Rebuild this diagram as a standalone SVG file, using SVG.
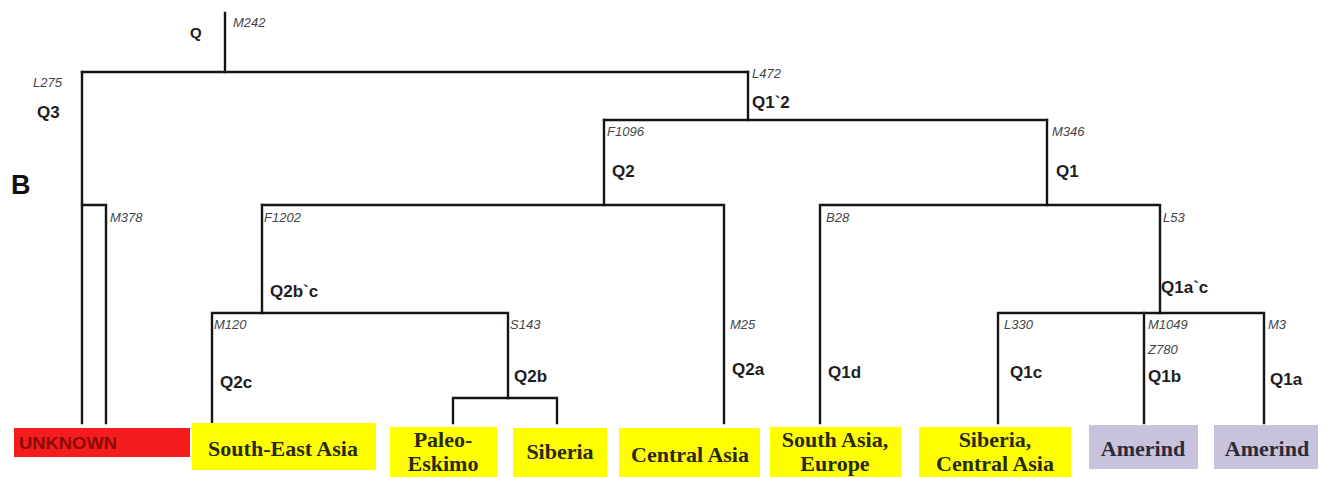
<svg xmlns="http://www.w3.org/2000/svg" width="1326" height="477" viewBox="0 0 1326 477">
<style>
.bg{fill:#ffffff}
.ln{stroke:#151515;stroke-width:2.4;fill:none;stroke-linecap:square}
.hg{font-family:"Liberation Sans",Arial,sans-serif;font-size:17px;font-weight:bold;fill:#1e1e1e}
.mk{font-family:"Liberation Sans",Arial,sans-serif;font-size:13px;font-style:italic;fill:#454545}
.big{font-family:"Liberation Sans",Arial,sans-serif;font-size:27px;font-weight:bold;fill:#111}
.yel{fill:#ffff00}
.lav{fill:#c9c2dd}
.red{fill:#f41c1c}
.bx{font-family:"Liberation Serif","Times New Roman",serif;font-size:22px;font-weight:bold;fill:#2a2a12;text-anchor:middle}
.bxl{font-family:"Liberation Serif","Times New Roman",serif;font-size:22px;font-weight:bold;fill:#2a2a3a;text-anchor:middle}
.unk{font-family:"Liberation Sans",Arial,sans-serif;font-size:16px;font-weight:bold;fill:#8a0a0a}
</style>
<rect class="bg" x="0" y="0" width="1326" height="477"/>
<g id="connectors">
<path class="ln" d="M225 13V72"/>
<path class="ln" d="M82 72H748"/>
<path class="ln" d="M82 72V423"/>
<path class="ln" d="M82 205H106V423"/>
<path class="ln" d="M748 72V120"/>
<path class="ln" d="M604 120H1047"/>
<path class="ln" d="M604 120V205"/>
<path class="ln" d="M262 205H724V423"/>
<path class="ln" d="M262 205V313"/>
<path class="ln" d="M212 423V313H508V398"/>
<path class="ln" d="M453 423V398H557V423"/>
<path class="ln" d="M1047 120V205"/>
<path class="ln" d="M820 423V205H1160V313"/>
<path class="ln" d="M998 423V313H1264V423"/>
<path class="ln" d="M1144 313V423"/>
</g>
<g id="labels">
<text class="big" x="11" y="194">B</text>
<text class="hg" x="190" y="38" style="font-size:15px">Q</text>
<text class="mk" x="233" y="27">M242</text>
<text class="mk" x="33" y="87">L275</text>
<text class="hg" x="37" y="118">Q3</text>
<text class="mk" x="110" y="222">M378</text>
<text class="mk" x="752" y="78">L472</text>
<text class="hg" x="752" y="108">Q1`2</text>
<text class="mk" x="607" y="136">F1096</text>
<text class="hg" x="612" y="177">Q2</text>
<text class="mk" x="1052" y="136">M346</text>
<text class="hg" x="1056" y="177">Q1</text>
<text class="mk" x="264" y="222">F1202</text>
<text class="mk" x="826" y="222">B28</text>
<text class="mk" x="1163" y="222">L53</text>
<text class="hg" x="270" y="297">Q2b`c</text>
<text class="hg" x="1161" y="293">Q1a`c</text>
<text class="mk" x="214" y="329">M120</text>
<text class="mk" x="510" y="329">S143</text>
<text class="mk" x="730" y="329">M25</text>
<text class="mk" x="1004" y="329">L330</text>
<text class="mk" x="1148" y="329">M1049</text>
<text class="mk" x="1268" y="329">M3</text>
<text class="mk" x="1148" y="354">Z780</text>
<text class="hg" x="220" y="388">Q2c</text>
<text class="hg" x="514" y="382">Q2b</text>
<text class="hg" x="732" y="375">Q2a</text>
<text class="hg" x="828" y="378">Q1d</text>
<text class="hg" x="1010" y="378">Q1c</text>
<text class="hg" x="1148" y="382">Q1b</text>
<text class="hg" x="1270" y="385">Q1a</text>
</g>
<g id="node-unknown">
<rect class="red" x="14" y="428" width="176" height="29"/>
<text class="unk" x="19" y="449" textLength="98" lengthAdjust="spacingAndGlyphs">UNKNOWN</text>
</g>
<g id="node-southeast-asia">
<rect class="yel" x="192" y="423" width="184" height="47"/>
<text class="bx" x="283" y="456">South-East Asia</text>
</g>
<g id="node-paleo-eskimo">
<rect class="yel" x="390" y="427" width="107" height="50"/>
<text class="bx" x="443" y="447">Paleo-</text>
<text class="bx" x="443" y="471">Eskimo</text>
</g>
<g id="node-siberia">
<rect class="yel" x="513" y="428" width="94" height="49"/>
<text class="bx" x="560" y="459">Siberia</text>
</g>
<g id="node-central-asia">
<rect class="yel" x="619" y="428" width="141" height="49"/>
<text class="bx" x="690" y="462">Central Asia</text>
</g>
<g id="node-south-asia-europe">
<rect class="yel" x="770" y="427" width="131" height="50"/>
<text class="bx" x="835" y="447">South Asia,</text>
<text class="bx" x="835" y="471">Europe</text>
</g>
<g id="node-siberia-central-asia">
<rect class="yel" x="919" y="427" width="152" height="50"/>
<text class="bx" x="995" y="447">Siberia,</text>
<text class="bx" x="995" y="471">Central Asia</text>
</g>
<g id="node-amerind-1">
<rect class="lav" x="1089" y="425" width="109" height="44"/>
<text class="bxl" x="1143" y="456">Amerind</text>
</g>
<g id="node-amerind-2">
<rect class="lav" x="1214" y="425" width="104" height="44"/>
<text class="bxl" x="1267" y="456">Amerind</text>
</g>
</svg>
